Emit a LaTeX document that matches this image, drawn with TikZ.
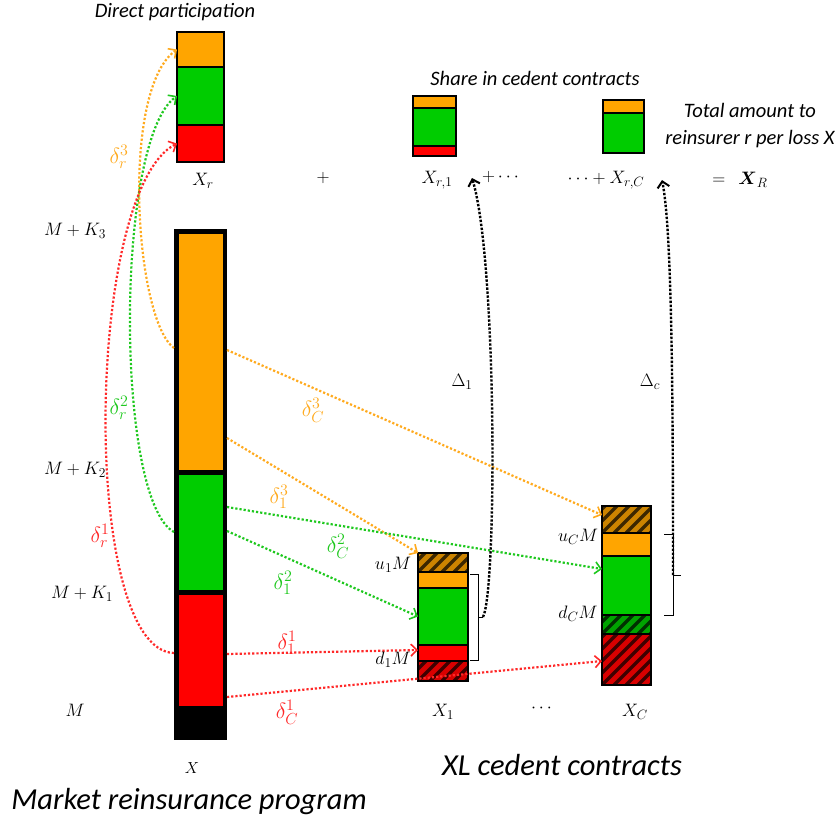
\RequirePackage{fix-cm}
\documentclass[tikz,border=0pt]{standalone}
\usepackage{amsmath}
\usepackage{fontspec}
\setmainfont{Carlito}
\usepackage{xcolor}
\usetikzlibrary{calc,arrows.meta,positioning}
\DeclareMathSizes{18}{18}{13.5}{10}
\DeclareMathSizes{16}{16}{12}{9}
\DeclareMathSizes{22}{22}{16}{11}
\definecolor{barorange}{RGB}{255,165,0}
\definecolor{bargreen}{RGB}{0,204,0}
\definecolor{barred}{RGB}{255,0,0}
\definecolor{lineorange}{RGB}{255,170,30}
\definecolor{linegreen}{RGB}{30,200,30}
\definecolor{linered}{RGB}{255,40,40}

\begin{document}
\begin{tikzpicture}[x=1pt,y=-1pt,
  seg/.style={draw=black,line width=1.4pt,inner sep=0,outer sep=0},
  plain/.style={},
  hatch/.style={path picture={\foreach \k in {-9,...,9}
    \draw[black,line width=3.5pt,opacity=0.7] ([xshift=\k*12pt]path picture bounding box.south west) -- ++(70pt,70pt);}},
  flow/.style={line width=2.2pt,dash pattern=on 2.2pt off 2pt,-{Straight Barb[length=6pt,width=12pt,line width=1.6pt]}},
  loss/.style={line width=2.4pt,dash pattern=on 2.4pt off 1.6pt,-{Straight Barb[length=6pt,width=12pt,line width=2pt]}},
  lab/.style={font=\fontsize{18}{20}\selectfont,inner sep=1pt},
  dlab/.style={font=\fontsize{22}{24}\selectfont,inner sep=1pt},
  txt/.style={font=\fontsize{20.5}{27}\selectfont\itshape,inner sep=1pt}]
\useasboundingbox (0,0) rectangle (835,823);
\foreach \nm/\c/\yc/\h in {xro/barorange/49.5/35, xrg/bargreen/96/58, xrr/barred/143.5/37}
  \node[seg,fill=\c,minimum width=47pt,minimum height=\h pt] (\nm) at (200.5,\yc) {};
\node[fill=black,inner sep=0,minimum width=53pt,minimum height=511pt] (xbar) at (200.5,484.5) {};
\foreach \nm/\c/\yc/\h in {xo/barorange/351.5/237, xg/bargreen/532/116, xr/barred/650/112}
  \node[seg,line width=0.8pt,fill=\c,minimum width=45pt,minimum height=\h pt] (\nm) at (200.5,\yc) {};
\foreach \nm/\c/\st/\yc/\h in {a1h/barorange!80!black/hatch/562.5/19, a1o/barorange/plain/580/16, a1g/bargreen/plain/616.5/57, a1r/barred/plain/653/16, a1rh/barred!85!black/hatch/671/20}
  \node[seg,\st,fill=\c,minimum width=50pt,minimum height=\h pt] (\nm) at (443,\yc) {};
\foreach \nm/\c/\st/\yc/\h in {cch/barorange!80!black/hatch/519.5/27, cco/barorange/plain/544.5/23, ccg/bargreen/plain/585.5/59, ccgh/bargreen!80!black/hatch/624.5/19, ccrh/barred!85!black/hatch/659.5/51}
  \node[seg,\st,fill=\c,minimum width=49pt,minimum height=\h pt] (\nm) at (626.5,\yc) {};
\foreach \nm/\c/\yc/\h in {s1o/barorange/102/12, s1g/bargreen/127/38, s1r/barred/151/10}
  \node[seg,fill=\c,minimum width=43pt,minimum height=\h pt] (\nm) at (434.5,\yc) {};
\foreach \nm/\c/\yc/\h in {sco/barorange/106.5/13, scg/bargreen/133/40}
  \node[seg,fill=\c,minimum width=41pt,minimum height=\h pt] (\nm) at (623.5,\yc) {};
\coordinate (po) at (174,348);
\coordinate (pg) at (174,532);
\coordinate (pr) at (174,653);
\coordinate (qo3c) at (227,350);
\coordinate (qo31) at (227,438);
\coordinate (qg2c) at (227,507);
\coordinate (qg21) at (227,531);
\coordinate (qr11) at (227,654);
\coordinate (qr1c) at (227,697);
\draw[flow,lineorange] (po) .. controls (135,320) and (120,90) .. (xro.west);
\draw[flow,linegreen] (pg) .. controls (115,500) and (115,140) .. (xrg.west);
\draw[flow,linered] (pr) .. controls (80,650) and (85,190) .. (xrr.west);
\draw[flow,lineorange] (qo3c) -- ([yshift=4.5pt]cch.west);
\draw[flow,lineorange] (qo31) -- (a1h.north west);
\draw[flow,linegreen] (qg2c) -- ([yshift=16.5pt]ccg.west);
\draw[flow,linegreen] (qg21) -- (a1g.west);
\draw[flow,linered] (qr11) -- ([yshift=3pt]a1r.west);
\draw[flow,linered] (qr1c) -- ([yshift=-1.5pt]ccrh.west);
\draw[line width=0.9pt] (470,574) -| (478,660) -- (470,660);
\draw[line width=0.9pt] (478,617) -- (483,617) coordinate (b1);
\draw[line width=0.9pt] (664,534) -| (673,615) -- (664,615);
\draw[line width=0.9pt] (673,575) coordinate (bc) -- (681,575);
\coordinate (e1) at (472,178);
\coordinate (ec) at (662,180);
\draw[loss] (b1) .. controls (497,590) and (497,260) .. (e1);
\draw[loss] (bc) .. controls (673,400) and (672,230) .. (ec);
\node[txt] (direct) at (175,12) {Direct participation};
\node[txt] (share) at (535,78) {Share in cedent contracts};
\node[txt,align=center] (total) at (750,126) {Total amount to\\reinsurer r per loss X};
\node[lab] (lxr) at (203,181) {$X_r$};
\node[lab] (plus) at (323,178) {$+$};
\node[lab] (lxr1) at (437,180) {$X_{r,1}$};
\node[lab] (pdots) at (502,177) {$+\cdots$};
\node[lab] (lxrc) at (606,180) {$\cdots+X_{r,C}$};
\node[lab] (lxR) at (740,180) {$=\ \ \boldsymbol{X}_R$};
\node[lab] (mk3) at (75,231) {$M+K_3$};
\node[lab] (mk2) at (75,470) {$M+K_2$};
\node[lab] (mk1) at (82,594) {$M+K_1$};
\node[lab] (mm) at (75,710) {$M$};
\node[lab,font=\fontsize{16}{18}\selectfont] (lx) at (192,768) {$X$};
\node[lab] (dl1) at (462,382) {$\Delta_1$};
\node[lab] (dlc) at (650,382) {$\Delta_c$};
\node[lab] (u1) at (393,565) {$u_1M$};
\node[lab] (d1) at (393,660) {$d_1M$};
\node[lab] (uc) at (578,537) {$u_CM$};
\node[lab] (dc) at (578,614) {$d_CM$};
\node[lab] (lx1) at (443,712) {$X_1$};
\node[lab] (mdots) at (543,708) {$\cdots$};
\node[lab] (lxc) at (635,712) {$X_C$};
\node[dlab,lineorange] (dr3) at (119,157) {$\delta_r^3$};
\node[dlab,linegreen] (dr2) at (119,408) {$\delta_r^2$};
\node[dlab,linered] (dr1) at (100,536) {$\delta_r^1$};
\node[dlab,lineorange] (dc3) at (313,410) {$\delta_C^3$};
\node[dlab,lineorange] (d13) at (279,497) {$\delta_1^3$};
\node[dlab,linegreen] (dc2) at (338,546) {$\delta_C^2$};
\node[dlab,linegreen] (d12) at (283,583) {$\delta_1^2$};
\node[dlab,linered] (d11) at (287,643) {$\delta_1^1$};
\node[dlab,linered] (dc1) at (287,712) {$\delta_C^1$};
\node[font=\fontsize{30.5}{33}\selectfont\itshape] (xlc) at (562,765) {XL cedent contracts};
\node[font=\fontsize{30.5}{33}\selectfont\itshape] (mrp) at (189,802) {Market reinsurance program};
\end{tikzpicture}
\end{document}
